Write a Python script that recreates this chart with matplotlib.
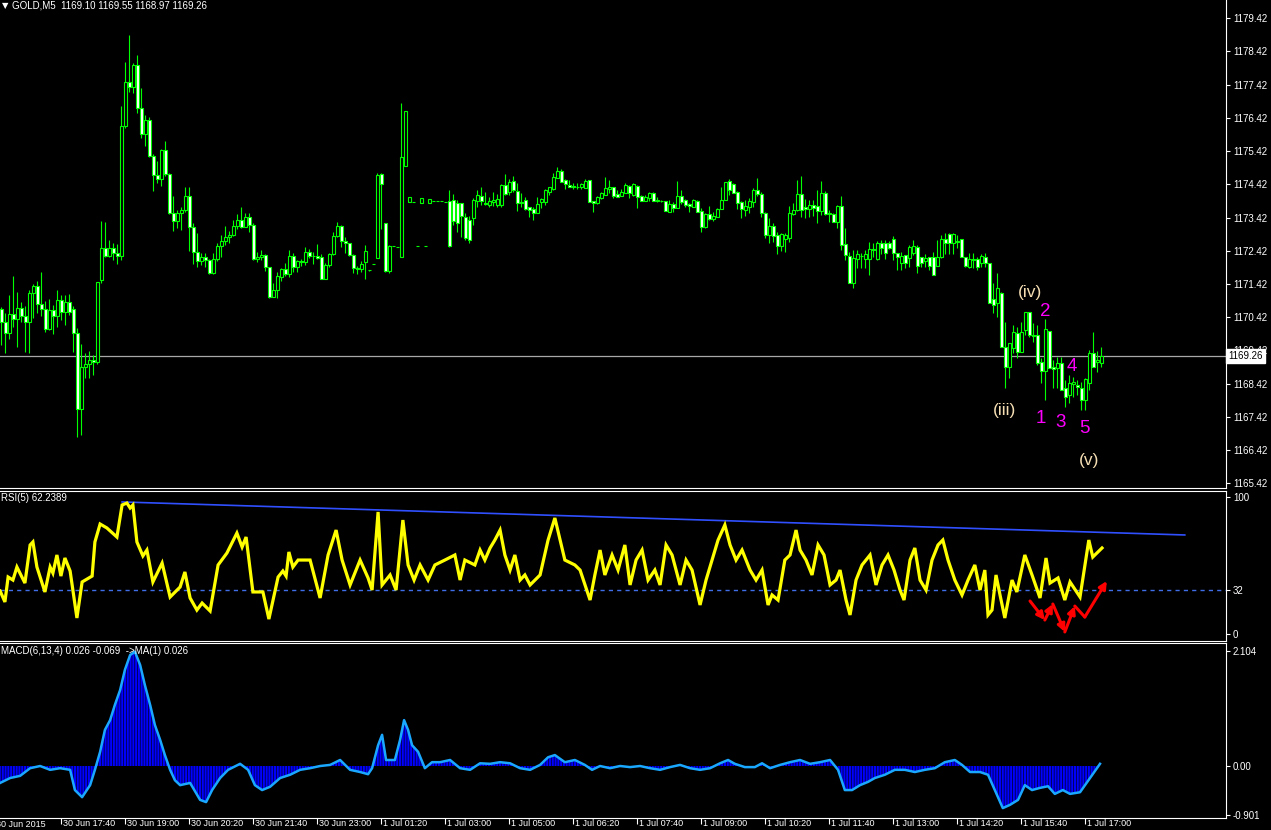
import numpy as np
import matplotlib.pyplot as plt
from matplotlib.transforms import blended_transform_factory, ScaledTranslation

plt.rcParams['font.family'] = ['Liberation Sans Narrow', 'Liberation Sans', 'DejaVu Sans']
plt.rcParams['hatch.linewidth'] = 0.6

# GOLD M5 candles, one entry per bar (bar 0 = 30 Jun 16:25)
opens = [1170.67,1170.28,1169.95,1170.52,1170.37,1170.70,1170.46,1170.28,1171.15,1171.36,
         1170.82,1170.67,1170.07,1170.64,1170.46,1170.94,1170.58,1170.88,1170.67,1169.95,
         1167.66,1168.92,1169.01,1169.13,1169.07,1171.54,1172.51,1172.26,1172.51,1172.35,
         1172.26,1176.18,1177.50,1177.35,1178.01,1176.72,1175.94,1176.36,1175.27,1174.70,
         1174.58,1175.45,1174.73,1173.56,1173.32,1173.56,1173.65,1174.07,1173.14,1172.38,
         1172.11,1172.23,1172.14,1171.75,1172.17,1172.57,1172.72,1172.84,1172.90,1173.17,
         1173.35,1173.14,1173.44,1173.20,1172.17,1172.23,1172.29,1171.93,1171.03,1171.24,
         1171.63,1171.87,1171.72,1172.26,1171.93,1172.11,1172.08,1172.38,1172.26,1172.26,
         1172.23,1171.57,1171.99,1172.32,1172.87,1173.17,1172.72,1172.66,1172.29,1171.90,
         1171.87,1172.08,1171.84,1172.02,1172.20,1174.73,1173.26,1171.81,1172.57,1172.54,
         1172.23,1174.97,1173.89,1173.89,1172.57,1173.86,1172.57,1173.86,1173.92,1173.92,
         1173.92,1173.89,1173.92,1173.95,1173.86,1173.86,1173.44,1173.35,1173.41,1173.92,
         1174.07,1173.86,1173.80,1173.89,1173.80,1173.80,1174.40,1174.19,1174.52,1174.22,
         1173.89,1173.95,1173.74,1173.68,1173.56,1173.89,1173.89,1174.19,1174.28,1174.61,
         1174.82,1174.55,1174.40,1174.37,1174.34,1174.34,1174.31,1174.55,1173.92,1173.86,
         1174.01,1174.10,1174.28,1174.34,1174.13,1174.07,1174.16,1174.37,1174.10,1174.37,
         1174.07,1173.92,1174.01,1174.16,1173.95,1173.92,1173.92,1173.59,1173.83,1173.71,
         1174.07,1173.95,1173.83,1173.74,1173.92,1173.62,1173.14,1173.53,1173.38,1173.44,
         1173.68,1173.95,1174.52,1174.43,1174.19,1173.89,1173.65,1173.74,1173.89,1174.25,
         1174.13,1173.56,1172.90,1173.17,1172.90,1172.57,1172.78,1172.81,1173.53,1173.65,
         1174.13,1173.74,1173.68,1173.80,1173.77,1173.62,1174.16,1173.56,1173.53,1173.29,
         1173.77,1172.63,1172.26,1171.45,1172.17,1172.26,1172.17,1172.17,1172.48,1172.17,
         1172.66,1172.66,1172.66,1172.78,1172.35,1172.05,1172.29,1172.20,1172.35,1172.54,
         1172.23,1172.11,1172.23,1172.23,1171.96,1172.23,1172.78,1172.93,1172.66,1172.72,
         1172.78,1172.23,1171.93,1172.17,1172.17,1172.05,1172.23,1172.05,1170.97,1170.85,
         1171.15,1169.53,1168.92,1169.50,1169.95,1169.38,1170.04,1170.58,1169.89,1169.89,
         1169.07,1168.80,1170.01,1168.92,1168.89,1169.04,1168.29,1168.08,1168.41,1168.38,
         1168.29,1167.93,1168.44,1169.35,1169.07,1169.04]
highs = [1170.73,1170.55,1171.09,1171.66,1171.18,1170.88,1170.76,1171.24,1171.42,1171.51,
         1171.78,1170.91,1170.97,1170.79,1171.24,1171.09,1171.09,1171.12,1170.76,1170.10,
         1169.62,1169.35,1169.41,1169.28,1171.48,1173.32,1173.29,1172.75,1172.66,1172.63,
         1176.78,1178.10,1178.92,1178.07,1178.31,1177.32,1176.51,1176.45,1175.33,1175.12,
         1175.48,1175.73,1174.76,1174.07,1173.65,1173.74,1174.34,1174.34,1173.26,1172.96,
         1172.35,1172.35,1172.17,1172.35,1172.66,1172.90,1173.17,1173.02,1173.35,1173.53,
         1173.74,1173.56,1173.56,1173.26,1172.38,1172.44,1172.32,1171.93,1171.45,1171.78,
         1171.90,1172.05,1172.44,1172.35,1172.14,1172.17,1172.54,1172.48,1172.38,1172.63,
         1172.32,1172.05,1172.35,1172.99,1173.29,1173.20,1172.84,1172.66,1172.32,1171.96,
         1172.11,1172.60,1171.84,1172.02,1174.76,1174.76,1173.26,1172.60,1172.57,1172.54,
         1176.87,1176.63,1174.04,1173.89,1172.57,1174.01,1172.57,1173.98,1173.92,1173.92,
         1173.92,1173.89,1174.25,1174.13,1173.95,1173.86,1173.56,1173.47,1174.01,1174.25,
         1174.34,1174.19,1174.04,1174.19,1174.13,1174.43,1174.73,1174.58,1174.67,1174.46,
         1174.16,1174.04,1173.74,1173.74,1174.04,1174.01,1174.28,1174.34,1174.76,1174.94,
         1174.88,1174.58,1174.55,1174.46,1174.46,1174.46,1174.58,1174.55,1173.92,1174.07,
         1174.19,1174.64,1174.55,1174.34,1174.25,1174.28,1174.46,1174.40,1174.46,1174.40,
         1174.10,1174.10,1174.19,1174.19,1174.04,1173.95,1173.92,1173.95,1173.89,1174.52,
         1174.25,1173.98,1173.86,1173.98,1173.95,1173.71,1173.56,1173.77,1173.59,1173.71,
         1174.34,1174.49,1174.58,1174.46,1174.22,1173.92,1173.95,1174.01,1174.31,1174.61,
         1174.19,1173.59,1173.41,1173.26,1172.99,1172.96,1172.96,1173.77,1173.86,1174.55,
         1174.67,1173.98,1173.95,1173.95,1174.25,1174.52,1174.22,1173.65,1173.56,1173.80,
         1174.07,1173.11,1172.38,1172.44,1172.44,1172.35,1172.44,1172.69,1172.66,1172.72,
         1172.75,1172.75,1172.72,1172.87,1172.35,1172.38,1172.29,1172.60,1172.75,1172.60,
         1172.23,1172.32,1172.23,1172.38,1172.75,1172.90,1172.96,1172.96,1172.96,1172.90,
         1172.78,1172.23,1172.35,1172.35,1172.23,1172.32,1172.35,1172.05,1171.45,1171.75,
         1171.18,1170.28,1169.65,1170.19,1170.13,1170.28,1170.58,1170.58,1170.25,1170.19,
         1169.19,1170.37,1170.01,1169.13,1169.22,1169.22,1168.53,1168.68,1168.62,1168.53,
         1168.47,1168.59,1169.44,1169.98,1169.41,1169.53]
lows = [1169.59,1169.35,1169.77,1170.13,1169.53,1170.28,1169.38,1169.35,1170.40,1170.55,
        1170.46,1169.98,1170.04,1169.92,1170.13,1170.34,1170.19,1170.49,1169.38,1166.82,
        1166.88,1168.59,1168.59,1168.68,1169.01,1171.45,1172.23,1172.23,1172.14,1172.02,
        1172.14,1176.12,1177.20,1177.17,1176.57,1175.82,1175.58,1175.24,1174.22,1174.46,
        1174.37,1174.67,1173.53,1173.02,1173.11,1173.05,1173.59,1172.41,1172.02,1171.93,
        1171.99,1171.93,1171.72,1171.72,1172.11,1172.23,1172.60,1172.66,1172.87,1173.08,
        1173.11,1173.14,1172.99,1172.14,1172.08,1172.14,1171.81,1171.00,1171.03,1171.00,
        1171.51,1171.66,1171.63,1171.78,1171.78,1171.96,1171.99,1172.20,1172.02,1172.17,
        1171.57,1171.57,1171.93,1172.29,1172.84,1172.54,1172.35,1172.26,1171.75,1171.72,
        1171.78,1171.57,1171.81,1172.02,1172.20,1173.08,1171.78,1171.75,1172.57,1172.54,
        1172.23,1174.97,1173.89,1173.89,1172.57,1173.86,1172.57,1173.86,1173.92,1173.92,
        1173.92,1173.89,1172.54,1173.20,1172.99,1172.84,1172.75,1172.66,1173.20,1173.74,
        1173.80,1173.80,1173.74,1173.77,1173.74,1173.74,1174.10,1174.10,1174.19,1173.62,
        1173.74,1173.65,1173.44,1173.35,1173.56,1173.71,1173.80,1174.10,1174.25,1174.61,
        1174.49,1174.28,1174.34,1174.28,1174.28,1174.28,1174.31,1173.89,1173.59,1173.83,
        1173.98,1174.10,1174.16,1174.01,1174.04,1174.07,1174.16,1174.01,1174.07,1173.71,
        1173.92,1173.92,1173.92,1173.92,1173.89,1173.89,1173.62,1173.59,1173.59,1173.71,
        1173.83,1173.74,1173.59,1173.74,1173.59,1172.99,1173.11,1173.35,1173.32,1173.44,
        1173.68,1173.95,1174.10,1174.16,1173.68,1173.41,1173.47,1173.56,1173.74,1174.07,
        1173.44,1172.81,1172.66,1172.69,1172.32,1172.41,1172.38,1172.69,1173.50,1173.62,
        1173.44,1173.41,1173.44,1173.47,1173.26,1173.50,1173.50,1173.29,1173.29,1173.11,
        1172.44,1172.14,1171.45,1171.30,1171.90,1171.90,1171.90,1171.69,1172.23,1172.14,
        1172.32,1172.17,1172.48,1172.14,1171.84,1171.84,1171.90,1171.93,1172.29,1171.75,
        1171.93,1171.93,1171.84,1171.69,1171.96,1172.20,1172.32,1172.32,1172.32,1172.51,
        1172.23,1171.93,1171.90,1171.90,1171.84,1171.93,1171.93,1170.85,1170.55,1170.43,
        1169.53,1168.29,1168.59,1169.35,1169.19,1169.38,1169.89,1169.83,1169.68,1168.98,
        1168.44,1167.93,1168.89,1168.29,1168.29,1168.23,1167.72,1167.84,1168.02,1168.08,
        1167.63,1167.63,1168.23,1168.92,1168.77,1168.92]
closes = [1170.28,1169.95,1170.52,1170.37,1170.70,1170.46,1170.28,1171.15,1171.36,1170.82,
          1170.67,1170.07,1170.64,1170.46,1170.94,1170.58,1170.88,1170.58,1169.95,1167.66,
          1168.92,1169.01,1169.13,1169.07,1171.48,1172.51,1172.26,1172.51,1172.35,1172.26,
          1176.18,1177.50,1177.35,1178.01,1176.72,1175.94,1176.36,1175.27,1174.70,1174.58,
          1175.45,1174.73,1173.56,1173.32,1173.56,1173.65,1174.07,1173.14,1172.38,1172.11,
          1172.23,1172.14,1171.75,1172.17,1172.57,1172.72,1172.84,1172.90,1173.17,1173.35,
          1173.14,1173.44,1173.20,1172.17,1172.23,1172.29,1171.93,1171.03,1171.24,1171.66,
          1171.87,1171.72,1172.26,1171.93,1172.11,1172.08,1172.38,1172.26,1172.26,1172.20,
          1171.57,1171.99,1172.32,1172.87,1173.17,1172.72,1172.66,1172.29,1171.90,1171.87,
          1172.02,1172.41,1171.84,1172.02,1174.70,1174.43,1171.81,1172.57,1172.57,1172.54,
          1175.24,1176.63,1174.04,1173.89,1172.57,1174.01,1172.57,1173.98,1173.92,1173.92,
          1173.92,1173.89,1172.57,1173.32,1173.26,1173.47,1172.81,1172.75,1173.95,1174.10,
          1173.92,1173.83,1173.92,1173.95,1173.98,1174.40,1174.13,1174.49,1174.25,1173.86,
          1173.86,1173.68,1173.65,1173.56,1173.83,1173.98,1174.25,1174.34,1174.64,1174.82,
          1174.49,1174.43,1174.34,1174.34,1174.34,1174.43,1174.52,1173.89,1173.86,1174.04,
          1174.16,1174.31,1174.34,1174.07,1174.04,1174.19,1174.40,1174.16,1174.43,1174.04,
          1173.92,1174.04,1174.16,1173.92,1173.92,1173.92,1173.62,1173.83,1173.71,1174.07,
          1173.89,1173.80,1173.77,1173.95,1173.59,1173.14,1173.53,1173.38,1173.47,1173.68,
          1173.95,1174.49,1174.25,1174.16,1173.86,1173.68,1173.77,1173.92,1174.25,1174.13,
          1173.56,1172.90,1173.17,1172.87,1172.57,1172.93,1172.90,1173.56,1173.65,1174.13,
          1173.65,1173.68,1173.80,1173.71,1173.62,1174.16,1173.53,1173.53,1173.29,1173.77,
          1172.60,1172.29,1171.45,1172.20,1172.32,1172.26,1172.32,1172.48,1172.44,1172.66,
          1172.51,1172.35,1172.51,1172.35,1172.23,1172.26,1172.05,1172.54,1172.57,1171.96,
          1172.05,1172.20,1171.96,1171.69,1172.23,1172.78,1172.66,1172.66,1172.93,1172.69,
          1172.23,1171.96,1172.17,1172.14,1171.93,1172.26,1172.05,1170.85,1170.79,1171.30,
          1169.53,1168.92,1169.65,1169.98,1169.38,1169.98,1170.58,1169.89,1169.86,1169.04,
          1168.80,1170.07,1168.89,1168.86,1169.04,1168.23,1168.02,1168.44,1168.47,1168.32,
          1167.93,1168.56,1169.35,1168.92,1169.13,1169.26]

price_ticks = [1179.42 - k for k in range(15)]
last_price = 1169.26

# RSI(5) turning points (bar, value)
rsi_bar = [-0.3,0.9,1.7,2.9,3.9,5.9,7.2,7.9,8.9,10.9,12.2,12.9,13.9,14.9,15.9,17.2,18.9,20.2,22.7,23.4,
           24.7,26.4,28.9,30.2,31.4,32.2,32.9,33.9,35.4,36.4,37.9,40.2,42.2,44.7,45.9,47.2,48.9,50.2,52.2,54.2,
           56.4,58.9,60.2,61.2,62.9,65.4,66.9,69.2,70.4,71.2,71.9,72.9,74.2,77.2,79.7,81.7,83.7,85.2,87.2,89.7,
           91.7,92.7,94.2,95.2,97.2,98.7,100.4,101.7,103.2,104.7,106.7,108.4,110.9,113.4,114.7,115.9,118.4,119.7,120.9,122.2,
           123.4,124.7,125.9,127.2,128.4,129.7,130.9,132.2,134.7,136.7,138.4,139.7,140.9,143.4,144.7,147.2,148.4,149.7,150.9,152.7,
           154.2,155.9,157.2,158.7,160.2,161.7,163.4,164.7,166.2,167.7,169.7,171.2,172.7,174.7,176.2,177.7,179.2,180.9,182.2,183.7,
           185.2,187.2,188.7,190.2,191.7,192.7,194.2,195.9,197.2,198.7,199.7,201.2,202.7,204.2,205.7,207.2,208.7,209.7,211.2,212.2,
           213.7,215.2,217.2,218.7,220.2,221.7,223.2,224.7,225.7,227.2,228.4,229.7,231.2,232.7,234.2,235.4,236.7,238.4,240.2,241.7,
           243.4,244.7,245.9,246.7,247.7,248.7,249.7,250.9,252.7,253.9,255.9,257.7,259.7,261.2,262.2,264.2,265.9,267.2,269.7,271.9,
           272.9,275.2]
rsi_val = [31.4,23.4,41.6,39.4,48.9,37.2,65.0,67.2,48.9,30.7,48.9,44.5,57.7,42.3,55.5,46.0,11.7,38.0,42.3,67.2,
           80.3,77.4,70.8,94.2,95.6,92.0,94.2,67.2,57.0,61.3,38.0,51.8,27.0,34.3,45.3,26.3,17.5,22.6,16.8,50.4,
           59.1,73.7,63.5,70.8,30.7,30.7,10.9,41.6,46.0,42.3,59.9,48.9,54.0,54.0,26.3,57.7,75.9,54.0,35.8,54.0,
           40.9,32.1,89.1,35.8,43.1,32.1,83.2,50.4,39.4,50.4,39.4,50.4,54.0,57.7,39.4,54.0,50.4,61.3,54.0,62.8,
           68.6,75.9,57.7,46.7,57.7,39.4,43.1,35.8,43.1,68.6,84.7,68.6,54.0,50.4,46.7,24.8,43.1,61.3,43.1,57.7,
           46.7,65.0,35.8,54.0,61.3,39.4,46.7,35.8,65.0,57.7,35.8,54.0,46.7,21.2,39.4,54.0,68.6,79.6,65.0,54.0,
           61.3,46.7,39.4,46.7,21.2,28.5,24.8,54.0,57.7,75.9,61.3,54.0,43.1,65.0,57.7,35.8,39.4,46.7,24.8,13.9,
           39.4,50.4,57.7,35.8,50.4,57.7,46.7,32.1,24.8,54.0,62.8,39.4,32.1,54.0,65.0,68.6,54.0,39.4,28.5,39.4,
           50.4,32.1,46.7,13.9,17.5,43.1,28.5,11.7,39.4,30.7,57.7,43.1,26.3,55.5,37.2,40.9,24.8,38.0,27.0,68.6,
           56.2,62.8]
rsi_level = 32
rsi_trend_bar = [30.2, 295.9]
rsi_trend_val = [96.4, 72.3]
# red zigzag arrows drawn on the RSI panel
arrow_bar = [257.2, 260.9, 262.9, 265.9, 268.4, 270.9, 276.4]
arrow_val = [24.1, 10.2, 21.9, 1.5, 20.4, 12.4, 38.7]

# MACD(6,13,4) main line (bar, value)
macd_bar = [-0.3,2.2,4.7,7.2,9.7,12.2,14.7,17.2,18.4,20.2,22.2,23.4,24.7,25.9,27.2,28.4,29.7,30.9,32.2,33.4,
            34.7,35.9,37.2,38.4,39.7,40.9,42.2,43.4,44.7,47.2,49.7,51.2,52.7,54.7,56.7,59.7,61.7,63.4,65.2,67.2,
            69.7,72.2,74.7,77.2,79.7,82.2,84.7,87.2,89.7,91.7,92.7,94.2,95.2,96.2,98.4,99.7,100.7,101.7,102.7,104.2,
            105.9,107.7,109.7,112.2,114.7,117.2,119.7,122.2,124.7,127.2,129.7,132.2,134.7,136.7,138.4,140.9,143.4,145.9,147.7,149.7,
            152.2,154.7,157.2,159.7,162.2,164.7,167.2,169.7,172.2,174.7,177.2,179.7,181.7,183.4,185.9,188.4,190.2,192.2,194.7,197.2,
            199.7,202.2,204.7,207.2,209.2,210.9,212.7,214.7,216.7,218.4,220.9,223.4,225.9,228.4,230.9,233.4,235.9,238.4,240.2,242.2,
            244.7,246.7,248.4,250.4,252.2,254.2,255.9,257.7,259.7,261.7,263.4,265.4,267.2,269.7,272.2,274.7]
macd_val = [-0.31,-0.22,-0.18,-0.04,0.00,-0.07,-0.04,-0.07,-0.44,-0.57,-0.35,-0.07,0.26,0.66,0.84,1.12,1.39,1.76,2.03,2.09,
            1.85,1.48,1.12,0.75,0.48,0.20,-0.07,-0.26,-0.35,-0.31,-0.62,-0.66,-0.44,-0.22,-0.07,0.04,-0.07,-0.35,-0.44,-0.38,
            -0.22,-0.16,-0.07,-0.04,0.00,0.02,0.11,-0.07,-0.11,-0.15,-0.04,0.38,0.57,0.11,0.11,0.48,0.84,0.66,0.38,0.26,
            -0.04,0.07,0.07,0.11,-0.04,-0.07,0.05,0.04,0.07,0.05,-0.04,-0.07,0.02,0.16,0.20,0.07,0.11,0.02,-0.07,0.00,
            -0.04,0.00,-0.02,0.00,-0.04,-0.07,-0.02,0.02,-0.04,-0.07,-0.04,0.05,0.11,0.04,-0.02,-0.02,0.05,-0.04,0.02,0.07,
            0.11,0.04,0.07,0.11,-0.07,-0.44,-0.44,-0.35,-0.29,-0.22,-0.16,-0.07,-0.07,-0.11,-0.07,-0.04,0.07,0.11,0.02,-0.11,
            -0.11,-0.16,-0.44,-0.77,-0.71,-0.62,-0.35,-0.44,-0.40,-0.37,-0.51,-0.44,-0.51,-0.48,-0.22,0.04]
macd_ticks = [2.104, 0.0, -0.901]
macd_tick_labels = ['2.104', '0.00', '-0.901']

time_labels = ['30 Jun 17:40', '30 Jun 19:00', '30 Jun 20:20', '30 Jun 21:40', '30 Jun 23:00',
               '1 Jul 01:20', '1 Jul 03:00', '1 Jul 05:00', '1 Jul 06:20', '1 Jul 07:40',
               '1 Jul 09:00', '1 Jul 10:20', '1 Jul 11:40', '1 Jul 13:00', '1 Jul 14:20',
               '1 Jul 15:40', '1 Jul 17:00']
time_label_bars = [15 + 16 * k for k in range(len(time_labels))]

# wave labels (bar, price, text)
wave_labels = [(257.2, 1171.18, '(iv)'), (250.9, 1167.60, '(iii)'), (271.9, 1166.12, '(v)')]
count_labels = [(259.9, 1167.36, '1'), (260.9, 1170.58, '2'), (264.9, 1167.24, '3'),
                (267.7, 1168.95, '4'), (270.9, 1167.06, '5')]

W, H = 1271, 830
GREEN = '#00ff00'
fig = plt.figure(figsize=(W / 100, H / 100), dpi=100, facecolor='black')


def panel(top, bottom):
    a = fig.add_axes([0, 1 - bottom / H, 1226 / W, (bottom - top) / H])
    a.set_facecolor('black')
    a.set_xlim(-0.33, 306.2)
    for s in a.spines.values():
        s.set_color('white')
        s.set_linewidth(0.8)
    a.spines['left'].set_visible(False)
    a.yaxis.tick_right()
    a.tick_params(axis='y', colors='white', labelsize=7, length=3, width=0.8, pad=2)
    a.tick_params(axis='x', bottom=False, labelbottom=False)
    return a


ax = panel(0, 488)
ax_rsi = panel(491, 641)
ax_macd = panel(643, 818)
ax.spines['top'].set_visible(False)

# candles
x = np.arange(len(closes))
o = np.array(opens)
c = np.array(closes)
ax.vlines(x, lows, highs, color=GREEN, lw=0.8, zorder=2)
body_lo = np.minimum(o, c)
body_h = np.maximum(np.abs(c - o), 0.004)
faces = np.where(c > o, 'black', 'white')
ax.bar(x, body_h, bottom=body_lo, width=0.7, color=faces, edgecolor=GREEN,
       linewidth=0.8, zorder=3)
ax.axhline(last_price, color='#a8a8a8', lw=0.9, zorder=1)
ax.set_ylim(1165.28, 1179.97)
ax.set_yticks(price_ticks)
ax.set_yticklabels(['%.2f' % p for p in price_ticks])
tr = blended_transform_factory(ax.transAxes, ax.transData)
ax.text(1.0 + 2 / 1226, last_price, '%.2f' % last_price, transform=tr, ha='left', va='center',
        color='black', fontsize=7, clip_on=False, zorder=10,
        bbox=dict(facecolor='white', edgecolor='white', pad=1.5))

for bx, py, t in wave_labels:
    ax.text(bx, py, t, color='#f5deb3', fontsize=12.5, ha='center', va='center',
            family=['Liberation Sans', 'DejaVu Sans'], zorder=5)
for bx, py, t in count_labels:
    ax.text(bx, py, t, color='#ff00ff', fontsize=13.5, ha='center', va='center',
            family=['Liberation Sans', 'DejaVu Sans'], zorder=5)

# RSI panel
ax_rsi.set_ylim(-5.1, 104.4)
ax_rsi.axhline(rsi_level, color='#3f6fe8', lw=1, ls=(0, (3, 3)))
ax_rsi.plot(rsi_trend_bar, rsi_trend_val, color='#3050ff', lw=1.2)
ax_rsi.plot(rsi_bar, rsi_val, color='#ffff00', lw=2.3, solid_joinstyle='miter', zorder=3)
for k in range(len(arrow_bar) - 1):
    style = '-' if k == 4 else '-|>'
    ax_rsi.annotate('', xy=(arrow_bar[k + 1], arrow_val[k + 1]), xytext=(arrow_bar[k], arrow_val[k]),
                    arrowprops=dict(arrowstyle=style, color='#ff0000', lw=2.2, mutation_scale=11,
                                    shrinkA=0, shrinkB=0), zorder=4)
ax_rsi.set_yticks([100, 32, 0])
ax_rsi.set_yticklabels(['100', '32', '0'])

# MACD panel
ax_macd.set_ylim(-0.951, 2.25)
ax_macd.fill_between(macd_bar, 0, macd_val, facecolor='#0000ff', edgecolor='#000040',
                     hatch='||||||', lw=0)
ax_macd.plot(macd_bar, macd_val, color='#1aa8ff', lw=1.8)
ax_macd.set_yticks(macd_ticks)
ax_macd.set_yticklabels(macd_tick_labels)
ax_macd.tick_params(axis='x', bottom=True, labelbottom=True, colors='white', labelsize=6.5,
                    length=4, width=0.8, direction='out', pad=-3)
ax_macd.set_xticks(time_label_bars)
ax_macd.set_xticklabels(time_labels, ha='left', va='top')
shift = ScaledTranslation(2 / 100, 0, fig.dpi_scale_trans)
for lab in ax_macd.get_xticklabels():
    lab.set_transform(lab.get_transform() + shift)

# header texts
fig.text(2 / W, 1 - 6 / H, '\u25bc', color='white', fontsize=6, va='center', family='DejaVu Sans')
fig.text(12 / W, 1 - 6 / H, 'GOLD,M5  1169.10 1169.55 1168.97 1169.26', color='white',
         fontsize=7, va='center')
fig.text(1 / W, 1 - 498 / H, 'RSI(5) 62.2389', color='white', fontsize=7, va='center')
fig.text(1 / W, 1 - 651 / H, 'MACD(6,13,4) 0.026 -0.069  ->MA(1) 0.026', color='white',
         fontsize=7, va='center')
fig.text(-4 / W, 1 - 820 / H, '30 Jun 2015', color='white', fontsize=6.5, va='top')

fig.savefig('out.png', dpi=100, facecolor='black')
